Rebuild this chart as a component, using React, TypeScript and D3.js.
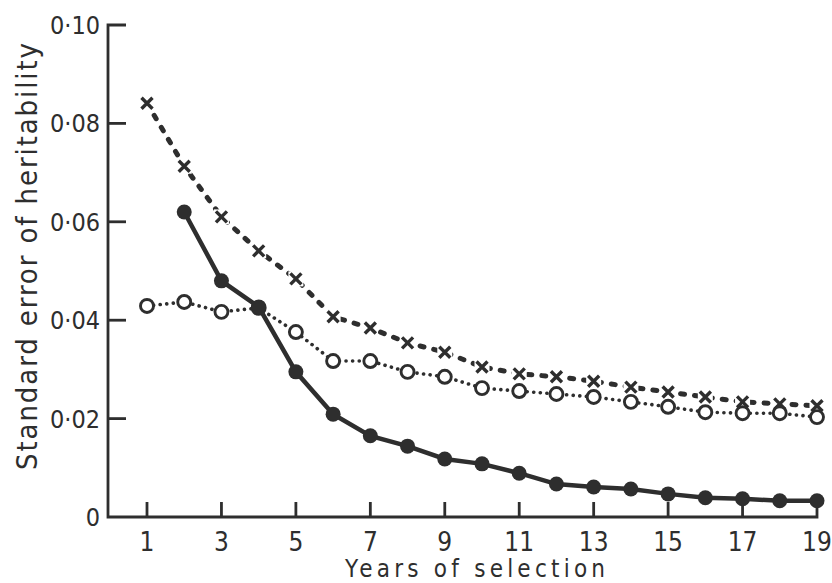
import React from "react";
import * as d3 from "d3";

const years = d3.range(1, 20);
const crossSeries = [0.0841, 0.0713, 0.061, 0.0541, 0.0484, 0.0407, 0.0384, 0.0354, 0.0335, 0.0305, 0.0291, 0.0285, 0.0276, 0.0264, 0.0254, 0.0244, 0.0234, 0.023, 0.0226];
const openSeries = [0.0429, 0.0437, 0.0417, 0.0425, 0.0376, 0.0317, 0.0317, 0.0295, 0.0285, 0.0262, 0.0256, 0.025, 0.0244, 0.0234, 0.0224, 0.0213, 0.0211, 0.0211, 0.0203];
const filledYears = d3.range(2, 20);
const filledSeries = [0.062, 0.048, 0.0427, 0.0295, 0.0209, 0.0165, 0.0144, 0.0118, 0.0108, 0.0089, 0.0067, 0.0061, 0.0057, 0.0047, 0.0039, 0.0037, 0.0033, 0.0033];
const xTicks = [1, 3, 5, 7, 9, 11, 13, 15, 17, 19];
const yTicks = [0, 0.02, 0.04, 0.06, 0.08, 0.1];
const yTickLabels = ["0", "0·02", "0·04", "0·06", "0·08", "0·10"];

const INK = "#2e2e2e";
const FONT = "'DejaVu Sans', sans-serif";

export default function App() {
  const x = d3.scaleLinear().domain([1, 19]).range([147, 817]);
  const y = d3.scaleLinear().domain([0, 0.1]).range([517, 25]);
  const axisLeft = 108;

  const line = d3
    .line<[number, number]>()
    .x((d) => x(d[0]))
    .y((d) => y(d[1]));

  const crossPts: [number, number][] = years.map((yr, i) => [yr, crossSeries[i]]);
  const openPts: [number, number][] = years.map((yr, i) => [yr, openSeries[i]]);
  const filledPts: [number, number][] = filledYears.map((yr, i) => [yr, filledSeries[i]]);

  return (
    <svg
      width={832}
      height={583}
      style={{ position: "absolute", left: 0, top: 0, background: "#fff" }}
    >
      {/* axes */}
      <path
        d={`M${axisLeft + 18},${y(0.1)} H${axisLeft} V${y(0)} H${x(19)} V${y(0) - 15}`}
        fill="none"
        stroke={INK}
        strokeWidth={2.8}
      />
      {yTicks.slice(1, 5).map((t) => (
        <line key={t} x1={axisLeft} x2={axisLeft + 18} y1={y(t)} y2={y(t)} stroke={INK} strokeWidth={2.8} />
      ))}
      {xTicks.slice(0, 9).map((t) => (
        <line key={t} x1={x(t)} x2={x(t)} y1={y(0)} y2={y(0) - 15} stroke={INK} strokeWidth={2.8} />
      ))}
      {yTicks.map((t, i) => (
        <text
          key={t}
          x={100}
          y={y(t) + 9}
          textAnchor="end"
          fontFamily={FONT}
          fontStretch="condensed"
          fontSize={25}
          fill={INK}
        >
          {yTickLabels[i]}
        </text>
      ))}
      {xTicks.map((t) => (
        <text
          key={t}
          x={x(t)}
          y={551}
          textAnchor="middle"
          fontFamily={FONT}
          fontStretch="condensed"
          fontSize={26}
          fill={INK}
        >
          {t}
        </text>
      ))}
      <text
        x={345}
        y={577}
        textLength={260}
        lengthAdjust="spacing"
        fontFamily={FONT}
        fontStretch="condensed"
        fontSize={24}
        fill={INK}
      >
        Years of selection
      </text>
      <text
        transform={`translate(37,470) rotate(-90)`}
        textLength={427}
        lengthAdjust="spacing"
        fontFamily={FONT}
        fontStretch="condensed"
        fontSize={29}
        fill={INK}
      >
        Standard error of heritability
      </text>

      {/* dashed series with crosses */}
      <path
        d={line(crossPts) || ""}
        fill="none"
        stroke={INK}
        strokeWidth={5}
        strokeDasharray="4 10"
        strokeLinecap="round"
      />
      {crossPts.map((p, i) => {
        const cx = x(p[0]);
        const cy = y(p[1]);
        const s = 5.5;
        return (
          <g key={i}>
            <rect x={cx - 7.5} y={cy - 7.5} width={15} height={15} fill="#fff" />
            <path
              d={`M${cx - s},${cy - s}L${cx + s},${cy + s}M${cx - s},${cy + s}L${cx + s},${cy - s}`}
              stroke={INK}
              strokeWidth={3.4}
            />
          </g>
        );
      })}

      {/* dotted series with open circles */}
      <path
        d={line(openPts) || ""}
        fill="none"
        stroke={INK}
        strokeWidth={3.6}
        strokeDasharray="0.1 6.5"
        strokeLinecap="round"
      />
      {openPts.map((p, i) => (
        <circle key={i} cx={x(p[0])} cy={y(p[1])} r={6.5} fill="#fff" stroke={INK} strokeWidth={2.9} />
      ))}

      {/* solid series with filled circles */}
      <path d={line(filledPts) || ""} fill="none" stroke={INK} strokeWidth={4.5} />
      {filledPts.map((p, i) => (
        <circle key={i} cx={x(p[0])} cy={y(p[1])} r={7.5} fill={INK} />
      ))}
    </svg>
  );
}
